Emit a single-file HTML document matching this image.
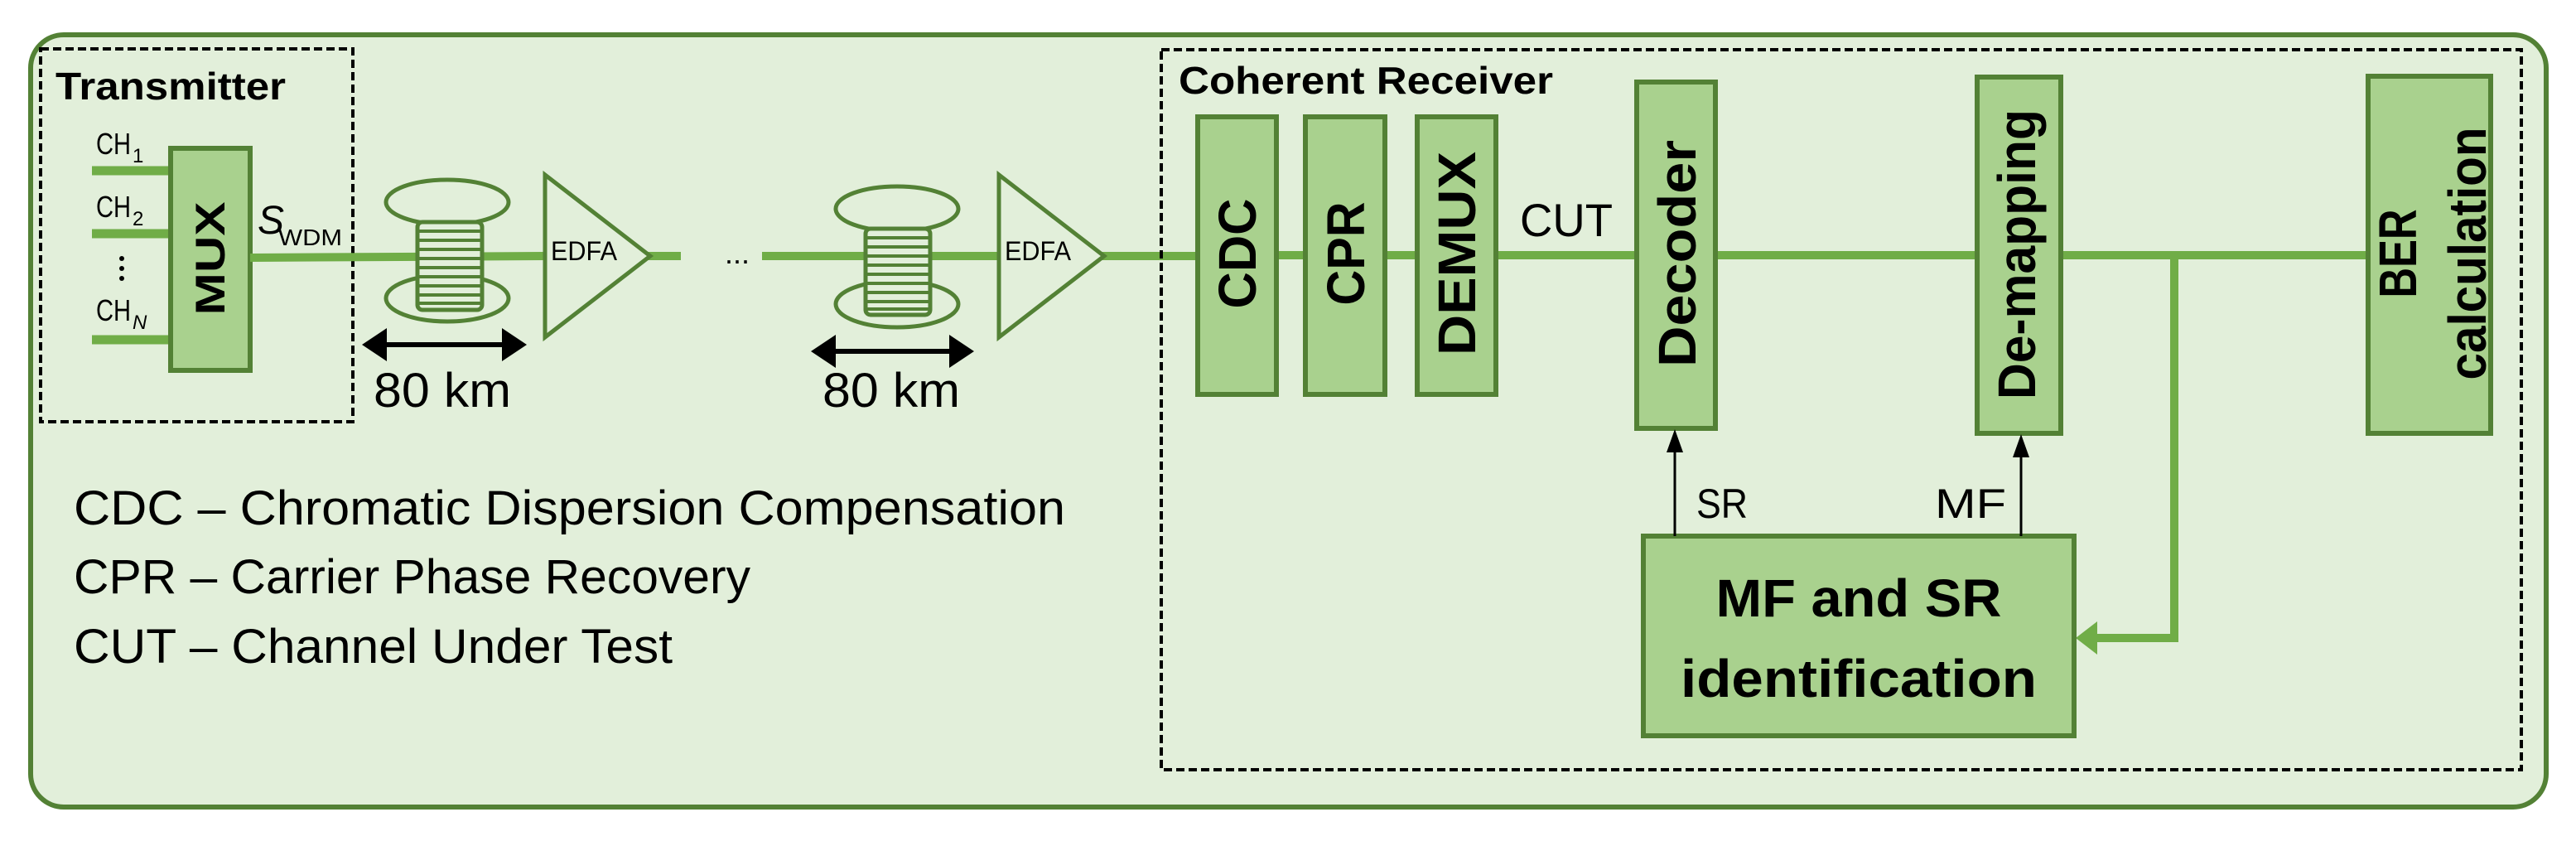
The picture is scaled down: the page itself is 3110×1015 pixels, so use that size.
<!DOCTYPE html>
<html><head><meta charset="utf-8"><style>html,body{margin:0;padding:0;background:#fff}svg{display:block}</style></head>
<body>
<svg width="3110" height="1015" viewBox="0 0 3110 1015" xmlns="http://www.w3.org/2000/svg" font-family="'Liberation Sans', sans-serif">
<rect x="37" y="42" width="3037" height="932" rx="40" fill="#e2efda" stroke="#538135" stroke-width="6"/>
<!-- Transmitter -->
<rect x="49" y="59" width="377" height="450" fill="none" stroke="#000" stroke-width="4" stroke-dasharray="10,5"/>
<text x="67" y="120" font-size="46" font-weight="bold" textLength="278" lengthAdjust="spacingAndGlyphs">Transmitter</text>
<g stroke="#70ad47" stroke-width="11">
<line x1="111" y1="206" x2="206" y2="206"/><line x1="111" y1="282" x2="206" y2="282"/><line x1="111" y1="410" x2="206" y2="410"/>
</g>
<g font-size="36">
<text x="116" y="186" textLength="42" lengthAdjust="spacingAndGlyphs">CH</text><text x="160" y="196" font-size="24">1</text>
<text x="116" y="262" textLength="42" lengthAdjust="spacingAndGlyphs">CH</text><text x="160" y="272" font-size="24">2</text>
<text x="116" y="387" textLength="42" lengthAdjust="spacingAndGlyphs">CH</text><text x="160" y="397" font-size="24" font-style="italic">N</text>
</g>
<circle cx="147" cy="312" r="3"/><circle cx="147" cy="324" r="3"/><circle cx="147" cy="336" r="3"/>
<rect x="206" y="179" width="96" height="268" fill="#a9d18e" stroke="#538135" stroke-width="6"/>
<text transform="translate(253,312) rotate(-90)" x="0" y="18" font-size="50" font-weight="bold" text-anchor="middle" textLength="137" lengthAdjust="spacingAndGlyphs">MUX</text>
<text x="311" y="282" font-size="48" font-style="italic">S</text><text x="336" y="296" font-size="28" textLength="77" lengthAdjust="spacingAndGlyphs">WDM</text>
<!-- fiber -->
<g stroke="#70ad47" stroke-width="10">
<line x1="302" y1="311" x2="658" y2="309"/><line x1="780" y1="309" x2="822" y2="309"/>
<line x1="920" y1="309" x2="1206" y2="309"/><line x1="1330" y1="309" x2="1446" y2="309"/>
</g>
<text x="875" y="318" font-size="36">...</text>
<!-- spools -->
<g fill="none" stroke="#538135" stroke-width="5">
<ellipse cx="540" cy="244" rx="74" ry="27"/><ellipse cx="540" cy="360" rx="74" ry="28"/>
<ellipse cx="1083" cy="252" rx="74" ry="27"/><ellipse cx="1083" cy="367" rx="74" ry="28"/>
</g>
<g fill="#e2efda" stroke="#538135" stroke-width="5">
<rect x="504" y="268" width="78" height="106" rx="6"/><rect x="1045" y="276" width="78" height="104" rx="6"/>
</g>
<g stroke="#538135" stroke-width="4">
<line x1="504" y1="279" x2="582" y2="279"/><line x1="504" y1="290" x2="582" y2="290"/><line x1="504" y1="301" x2="582" y2="301"/><line x1="504" y1="312" x2="582" y2="312"/><line x1="504" y1="323" x2="582" y2="323"/><line x1="504" y1="334" x2="582" y2="334"/><line x1="504" y1="345" x2="582" y2="345"/><line x1="504" y1="356" x2="582" y2="356"/><line x1="504" y1="366" x2="582" y2="366"/>
<line x1="1045" y1="287" x2="1123" y2="287"/><line x1="1045" y1="298" x2="1123" y2="298"/><line x1="1045" y1="309" x2="1123" y2="309"/><line x1="1045" y1="320" x2="1123" y2="320"/><line x1="1045" y1="331" x2="1123" y2="331"/><line x1="1045" y1="342" x2="1123" y2="342"/><line x1="1045" y1="353" x2="1123" y2="353"/><line x1="1045" y1="364" x2="1123" y2="364"/><line x1="1045" y1="373" x2="1123" y2="373"/>
</g>
<!-- EDFAs -->
<polygon points="658,211 785,309 658,407" fill="#e2efda" stroke="#538135" stroke-width="5"/>
<polygon points="1206,211 1333,309 1206,407" fill="#e2efda" stroke="#538135" stroke-width="5"/>
<text x="665" y="314" font-size="32" textLength="80" lengthAdjust="spacingAndGlyphs">EDFA</text>
<text x="1213" y="314" font-size="32" textLength="80" lengthAdjust="spacingAndGlyphs">EDFA</text>
<!-- 80 km arrows -->
<g stroke="#000" stroke-width="6"><line x1="455" y1="416" x2="618" y2="416"/><line x1="997" y1="424" x2="1158" y2="424"/></g>
<polygon points="437,416 467,396 467,436"/><polygon points="636,416 606,396 606,436"/>
<polygon points="979,424 1009,404 1009,444"/><polygon points="1176,424 1146,404 1146,444"/>
<text x="451" y="491" font-size="58" textLength="166" lengthAdjust="spacingAndGlyphs">80 km</text>
<text x="993" y="491" font-size="58" textLength="166" lengthAdjust="spacingAndGlyphs">80 km</text>
<!-- legend -->
<text x="89" y="633" font-size="58" textLength="1197" lengthAdjust="spacingAndGlyphs">CDC – Chromatic Dispersion Compensation</text>
<text x="89" y="716" font-size="58" textLength="817" lengthAdjust="spacingAndGlyphs">CPR – Carrier Phase Recovery</text>
<text x="89" y="800" font-size="58" textLength="723" lengthAdjust="spacingAndGlyphs">CUT – Channel Under Test</text>
<!-- Coherent receiver -->
<rect x="1402" y="60" width="1642" height="869" fill="none" stroke="#000" stroke-width="4" stroke-dasharray="10,5"/>
<text x="1423" y="113" font-size="46" font-weight="bold" textLength="452" lengthAdjust="spacingAndGlyphs">Coherent Receiver</text>
<g stroke="#70ad47" stroke-width="10">
<line x1="1446" y1="308" x2="2859" y2="308"/>
<polyline points="2625,308 2625,770 2520,770" fill="none"/>
</g>
<polygon points="2506,770 2532,750 2532,790" fill="#70ad47"/>
<g fill="#a9d18e" stroke="#538135" stroke-width="6">
<rect x="1446" y="141" width="95" height="335"/>
<rect x="1576" y="141" width="96" height="335"/>
<rect x="1711" y="141" width="95" height="335"/>
<rect x="1976" y="99" width="95" height="418"/>
<rect x="2387" y="93" width="101" height="430"/>
<rect x="2859" y="92" width="148" height="431"/>
<rect x="1984" y="647" width="520" height="241"/>
</g>
<g font-weight="bold" font-size="64" text-anchor="middle">
<text transform="translate(1493,306) rotate(-90)" y="23" textLength="133" lengthAdjust="spacingAndGlyphs">CDC</text>
<text transform="translate(1624,306) rotate(-90)" y="23" textLength="125" lengthAdjust="spacingAndGlyphs">CPR</text>
<text transform="translate(1758,306) rotate(-90)" y="23" textLength="246" lengthAdjust="spacingAndGlyphs">DEMUX</text>
<text transform="translate(2023,306) rotate(-90)" y="24" textLength="274" lengthAdjust="spacingAndGlyphs">Decoder</text>
<text transform="translate(2437,307) rotate(-90)" y="20" textLength="350" lengthAdjust="spacingAndGlyphs">De-mapping</text>
<text transform="translate(2894,306) rotate(-90)" y="23" textLength="107" lengthAdjust="spacingAndGlyphs">BER</text>
<text transform="translate(2978,306) rotate(-90)" y="23" textLength="305" lengthAdjust="spacingAndGlyphs">calculation</text>
</g>
<text x="1835" y="285" font-size="56" textLength="112" lengthAdjust="spacingAndGlyphs">CUT</text>
<g font-weight="bold" font-size="64" text-anchor="middle">
<text x="2244" y="744" textLength="345" lengthAdjust="spacingAndGlyphs">MF and SR</text>
<text x="2244" y="841" textLength="430" lengthAdjust="spacingAndGlyphs">identification</text>
</g>
<g stroke="#000" stroke-width="3">
<line x1="2022" y1="647" x2="2022" y2="545"/><line x1="2440" y1="647" x2="2440" y2="551"/>
</g>
<polygon points="2022,518 2012,546 2032,546"/><polygon points="2440,524 2430,552 2450,552"/>
<text x="2048" y="625" font-size="50" textLength="62" lengthAdjust="spacingAndGlyphs">SR</text>
<text x="2336" y="625" font-size="50" textLength="86" lengthAdjust="spacingAndGlyphs">MF</text>
</svg>
</body></html>
